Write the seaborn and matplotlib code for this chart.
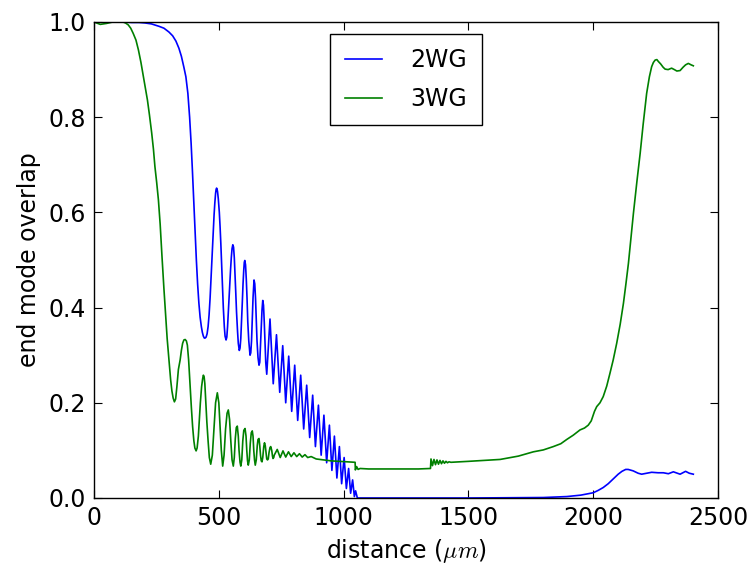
import matplotlib
matplotlib.use("Agg")
import matplotlib.pyplot as plt
import seaborn as sns
import pandas as pd

# ---- data ----
wg2_x = [0, 120, 150, 180, 204, 230, 260, 280, 300, 315, 328, 340, 350, 360, 368, 376, 383, 389, 394,
         399, 404, 410, 415, 420, 425, 430, 434, 438, 442, 445,
         449, 453, 457, 461, 465, 469, 473, 477, 481, 484, 487, 489, 491, 493, 495, 498, 502, 505, 508,
         512, 515, 518, 522, 525, 529,
         532, 535, 538, 541, 544, 547, 550, 553, 556, 559, 562, 565, 568, 571, 575, 578, 582,
         585, 588, 591, 594, 597, 600, 602, 604, 607, 610, 613, 616, 620, 625,
         628, 631, 634, 637, 641, 644, 647, 650, 653, 657, 661,
         664, 667, 670, 673, 676, 679, 682, 685, 688, 692,
         705, 718, 731, 744, 756, 768, 780, 792, 804, 816, 828, 840, 852, 864, 876, 887,
         899, 910, 921, 932, 943, 953, 963, 973, 983, 992, 1002, 1011, 1020, 1028, 1036,
         1043, 1048, 1055, 1200, 1500, 1800, 1894, 1950, 2000, 2020, 2040, 2060, 2080, 2100,
         2115, 2130, 2140, 2160, 2180, 2194, 2215, 2234, 2260, 2281, 2301, 2321, 2348, 2370, 2385, 2401]
wg2_y = [1.0, 1.0, 0.999, 0.999, 0.998, 0.996, 0.991, 0.987, 0.979, 0.971, 0.96, 0.945, 0.928, 0.905, 0.885, 0.85, 0.80, 0.745, 0.69,
         0.63, 0.57, 0.50, 0.45, 0.41, 0.38, 0.36, 0.348, 0.34, 0.336, 0.336,
         0.338, 0.345, 0.36, 0.385, 0.42, 0.465, 0.51, 0.555, 0.595, 0.62, 0.64, 0.648, 0.651, 0.649, 0.643, 0.628, 0.60, 0.57, 0.535,
         0.48, 0.44, 0.40, 0.36, 0.34, 0.332,
         0.338, 0.36, 0.39, 0.42, 0.45, 0.48, 0.505, 0.524, 0.532, 0.527, 0.505, 0.47, 0.43, 0.39, 0.35, 0.325, 0.31,
         0.315, 0.335, 0.37, 0.41, 0.45, 0.48, 0.495, 0.499, 0.49, 0.46, 0.42, 0.37, 0.33, 0.30,
         0.305, 0.33, 0.375, 0.42, 0.458, 0.45, 0.42, 0.375, 0.33, 0.295, 0.279,
         0.285, 0.32, 0.36, 0.395, 0.415, 0.405, 0.37, 0.325, 0.285, 0.26,
         0.376, 0.24, 0.343, 0.222, 0.32, 0.20, 0.298, 0.182, 0.279, 0.163, 0.258, 0.145, 0.237, 0.127, 0.216, 0.108,
         0.195, 0.09, 0.174, 0.074, 0.153, 0.058, 0.13, 0.042, 0.108, 0.03, 0.085, 0.02, 0.062, 0.01, 0.038,
         0.003, 0.015, 0.0, 0.0, 0.0, 0.001, 0.003, 0.006, 0.011, 0.016, 0.022, 0.03, 0.04, 0.05,
         0.056, 0.06, 0.06, 0.057, 0.052, 0.05, 0.052, 0.054, 0.053, 0.053, 0.051, 0.055, 0.05, 0.056, 0.052, 0.05]

wg3_x = [0, 25, 50, 75, 100, 116, 126, 137, 147, 157, 168, 178, 188, 198, 206, 214, 222, 231, 238, 244, 251, 258,
         265, 272, 280, 288, 293, 298, 303, 307, 312, 317, 322,
         327, 332, 338, 345, 350, 355, 360, 365, 370, 374, 379, 385, 390, 395, 400, 404, 409,
         413, 418, 422, 426, 431, 435, 438, 441, 444, 447, 452, 457, 462, 467.5,
         474, 481, 487, 494, 500, 505, 510, 515.5, 521, 527, 533, 538, 543, 548, 553, 558, 562, 566, 570, 574,
         578, 581, 585, 588, 592, 596, 600, 605, 609, 612, 615, 618,
         622, 626, 630, 634, 637, 640, 643, 646, 650, 654, 657, 661, 664, 667, 670, 673, 676, 680, 683, 686,
         689, 692, 695, 698, 701, 705, 708, 712, 715, 717, 720, 722,
         734, 746, 757, 768, 779, 790, 801, 812, 823, 834, 845, 856, 870, 890, 920, 950,
         980, 1010, 1046, 1047, 1052, 1058, 1066, 1100, 1200, 1300, 1348, 1350,
         1356, 1362, 1368, 1374, 1380, 1386, 1392, 1398, 1404, 1410, 1416, 1422, 1430,
         1500, 1627, 1700, 1760, 1800, 1840, 1870, 1894, 1920, 1947, 1965, 1980, 1992, 2005, 2014, 2027, 2040,
         2054, 2067, 2080, 2094, 2108, 2121, 2131, 2141, 2151, 2161, 2175, 2188, 2200, 2214, 2225, 2234, 2241, 2248,
         2255, 2261, 2270, 2280, 2288, 2300, 2314, 2325, 2335, 2348, 2360, 2370, 2381, 2392, 2401]
wg3_y = [1.0, 0.995, 0.997, 1.0, 1.0, 1.0, 0.998, 0.994, 0.987, 0.976, 0.962, 0.941, 0.915, 0.885, 0.862, 0.836, 0.805, 0.767, 0.733, 0.696, 0.663, 0.626,
         0.575, 0.51, 0.44, 0.374, 0.335, 0.304, 0.272, 0.248, 0.225, 0.21, 0.202,
         0.208, 0.234, 0.27, 0.29, 0.31, 0.325, 0.332, 0.333, 0.33, 0.321, 0.29, 0.234, 0.19, 0.15, 0.12, 0.105, 0.099,
         0.105, 0.13, 0.164, 0.2, 0.234, 0.25, 0.258, 0.255, 0.24, 0.21, 0.16, 0.12, 0.085, 0.071,
         0.09, 0.15, 0.2, 0.221, 0.2, 0.15, 0.1, 0.067, 0.09, 0.145, 0.178, 0.185, 0.165, 0.12, 0.08, 0.067, 0.085, 0.125, 0.148, 0.151,
         0.13, 0.1, 0.075, 0.067, 0.08, 0.12, 0.142, 0.146, 0.13, 0.1, 0.078, 0.069,
         0.08, 0.115, 0.137, 0.141, 0.13, 0.1, 0.08, 0.069, 0.08, 0.11, 0.123, 0.125, 0.11, 0.09, 0.078, 0.076, 0.085, 0.108, 0.116, 0.11,
         0.095, 0.082, 0.08, 0.082, 0.095, 0.106, 0.108, 0.1, 0.088, 0.083, 0.085, 0.09,
         0.102, 0.085, 0.099, 0.086, 0.097, 0.087, 0.095, 0.087, 0.093, 0.086, 0.091, 0.085, 0.087, 0.082, 0.08, 0.078,
         0.077, 0.076, 0.075, 0.059, 0.066, 0.06, 0.062, 0.061, 0.061, 0.061, 0.062, 0.082,
         0.068, 0.081, 0.07, 0.08, 0.071, 0.079, 0.072, 0.078, 0.073, 0.077, 0.074, 0.076, 0.075,
         0.077, 0.081, 0.088, 0.097, 0.101, 0.108, 0.114, 0.123, 0.132, 0.143, 0.147, 0.153, 0.162, 0.182, 0.192, 0.2, 0.213,
         0.235, 0.262, 0.29, 0.325, 0.365, 0.409, 0.45, 0.493, 0.545, 0.598, 0.665, 0.724, 0.785, 0.85, 0.885, 0.906, 0.915, 0.92,
         0.921, 0.917, 0.912, 0.905, 0.901, 0.9, 0.903, 0.9, 0.897, 0.898, 0.905, 0.91, 0.913, 0.91, 0.908]

labels = ["2WG", "3WG"]
x_ticks = [0, 500, 1000, 1500, 2000, 2500]
y_ticks = [0.0, 0.2, 0.4, 0.6, 0.8, 1.0]

# ---- style ----
plt.rcParams.update({
    "font.family": ["DejaVu Sans"],
    "mathtext.fontset": "cm",
    "xtick.direction": "in",
    "ytick.direction": "in",
    "xtick.top": True,
    "ytick.right": True,
    "xtick.major.size": 6,
    "ytick.major.size": 6,
    "axes.linewidth": 1.0,
})

df = pd.concat([
    pd.DataFrame({"distance": wg2_x, "overlap": wg2_y, "series": labels[0]}),
    pd.DataFrame({"distance": wg3_x, "overlap": wg3_y, "series": labels[1]}),
], ignore_index=True)

fig = plt.figure(figsize=(7.54, 5.67), dpi=100)
ax = fig.add_axes([0.1247, 0.1217, 0.8276, 0.8395])

sns.lineplot(data=df, x="distance", y="overlap", hue="series",
             palette={"2WG": "#0000ff", "3WG": "#008000"},
             estimator=None, sort=False, linewidth=1.2, ax=ax)

ax.set_xlim(0, 2500)
ax.set_ylim(0, 1.0)
ax.set_xticks(x_ticks)
ax.set_yticks(y_ticks)
ax.set_xticklabels([str(t) for t in x_ticks])
ax.set_yticklabels([f"{t:.1f}" for t in y_ticks])
ax.tick_params(labelsize=17, pad=6)
ax.set_xlabel(r"distance ($\mu m$)", fontsize=17, labelpad=5)
ax.set_ylabel("end mode overlap", fontsize=17, labelpad=5)

leg = ax.legend(loc="upper center", fontsize=17, frameon=True, fancybox=False,
                framealpha=1, edgecolor="black", handlelength=1.6,
                borderaxespad=0.5, labelspacing=0.65, handletextpad=1.2,
                borderpad=0.6)
leg.get_frame().set_linewidth(1.0)
for line in leg.get_lines():
    line.set_linewidth(1.2)

fig.savefig("out.png", dpi=100)
